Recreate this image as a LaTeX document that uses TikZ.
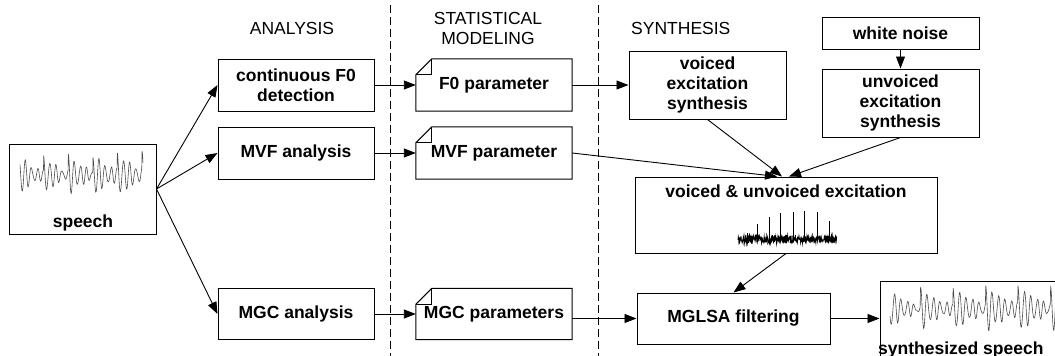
\documentclass[tikz,border=0pt]{standalone}
\usepackage{fontspec}
\setmainfont{Liberation Sans}
\usetikzlibrary{arrows.meta,calc}
\begin{document}
\begin{tikzpicture}[x=1pt,y=-1pt,
  box/.style={draw, line width=1pt, font=\fontsize{17.5}{20}\selectfont\bfseries, align=center, inner sep=0pt},
  plain/.style={font=\fontsize{17.5}{20}\selectfont\bfseries, inner sep=0pt},
  param/.style={font=\fontsize{17.5}{20}\selectfont\bfseries, align=center, inner sep=0pt, minimum width=156pt, minimum height=52pt},
  pborder/.style={line width=1pt},
  arr/.style={-{Triangle[length=12pt,width=9pt]}, line width=0.9pt},
  hdr/.style={font=\fontsize{17.5}{20}\selectfont, align=center, inner sep=0pt},
  sep/.style={line width=1pt, dash pattern=on 8pt off 4pt},
  wave/.style={gray!60!black, line width=0.6pt},
]
\useasboundingbox (0,0) rectangle (1055,356);
\clip (0,0) rectangle (1055,356);

% headers
\node[hdr] (hA) at (292,28) {ANALYSIS};
\node[hdr] (hS) at (488,28) {STATISTICAL\\MODELING};
\node[hdr, anchor=west] (hY) at (631,28) {SYNTHESIS};

% separators
\coordinate (s1t) at (390,5); \coordinate (s1b) at (390,356);
\coordinate (s2t) at (598,5); \coordinate (s2b) at (598,356);
\draw[sep] (s1t) -- (s1b);
\draw[sep] (s2t) -- (s2b);

% speech input
\node[box, minimum width=147pt, minimum height=90pt] (speech) at (82.5,189) {};
\node[plain] (speechlbl) at (83,223) {speech};
\draw[wave] plot[domain=0:123, samples=400]
  ({20+\x}, {175 - 21*exp(-0.06*mod(\x+1,24.6))*cos(58*mod(\x+1,24.6)) - 2*sin(\x*83) - 1.5*sin(\x*57)});

% analysis
\node[box, minimum width=156pt, minimum height=52pt] (f0det) at (296,85) {continuous F0\\detection};
\node[box, minimum width=156pt, minimum height=52pt] (mvfana) at (296,153) {MVF analysis};
\node[box, minimum width=156pt, minimum height=51pt] (mgcana) at (296,314) {MGC analysis};

% parameters (folded corner)
\node[param] (f0par) at (494,85) {F0 parameter};
\node[param] (mvfpar) at (494,153) {MVF parameter};
\node[param, minimum height=51pt] (mgcpar) at (494,314) {MGC parameters};
\foreach \p in {f0par,mvfpar,mgcpar}{
  \draw[pborder, line join=miter] ([yshift=-16pt]\p.north west) -- ([xshift=16pt]\p.north west) -- (\p.north east) -- (\p.south east) -- (\p.south west) -- cycle;
  \draw[line width=0.8pt] ([yshift=-16pt]\p.north west) -- ([xshift=16pt,yshift=-16pt]\p.north west) -- ([xshift=16pt]\p.north west);
}

% synthesis
\node[box, minimum width=157pt, minimum height=68pt] (voiced) at (707.5,85) {voiced\\excitation\\synthesis};
\node[box, minimum width=157pt, minimum height=32pt] (white) at (900.5,33) {white noise};
\node[box, minimum width=157pt, minimum height=68pt] (unvoiced) at (900.5,103) {unvoiced\\excitation\\synthesis};
\node[box, minimum width=302pt, minimum height=76pt] (vu) at (786,215) {};
\node[plain] (vulbl) at (786,191) {voiced \& unvoiced excitation};
\pgfmathsetseed{7}
\draw[black, line width=0.9pt] plot[domain=738:837, samples=300] (\x, {239+4*rand});
\foreach \sx/\sy in {747/233,757/224,769/217,780/213,793/212,804/211,817/212,829/221}
  \draw[black, line width=0.8pt] (\sx,239) -- (\sx,\sy);
\node[box, minimum width=193pt, minimum height=51pt] (mglsa) at (733.5,318.5) {MGLSA filtering};
\node[box, minimum width=190pt, minimum height=98pt] (synth) at (975,330) {};
\node[plain, anchor=west] (synthlbl) at (878,350) {synthesized speech};
\draw[wave] plot[domain=0:175, samples=500]
  ({890+\x}, {309 - 22*exp(-0.05*mod(\x+2,32.5))*cos(55.38*mod(\x+2,32.5)) - 2*sin(\x*83) - 1.5*sin(\x*57)});

% connectors
\coordinate (vuA) at ($(vu.north)+(-9,0)$);
\coordinate (vuB) at ($(vu.north)+(-4,0)$);
\coordinate (vuC) at ($(vu.north)+(3,0)$);
\draw[arr] (speech.east) -- (f0det.west);
\draw[arr] (speech.east) -- (mvfana.west);
\draw[arr] (speech.east) -- (mgcana.west);
\draw[arr] (f0det) -- (f0par);
\draw[arr] (mvfana) -- (mvfpar);
\draw[arr] (mgcana) -- (mgcpar);
\draw[arr] (f0par) -- (voiced);
\draw[arr] (mvfpar.east) -- (vuA);
\draw[arr] (voiced.south) -- (vuB);
\draw[arr] (unvoiced.south) -- (vuC);
\draw[arr] (white) -- (unvoiced);
\draw[arr] (vu.south) -- (mglsa.north);
\draw[arr] (mgcpar.east |- mglsa.west) -- (mglsa.west);
\draw[arr] (mglsa.east) -- (synth.west |- mglsa.east);
\end{tikzpicture}
\end{document}
